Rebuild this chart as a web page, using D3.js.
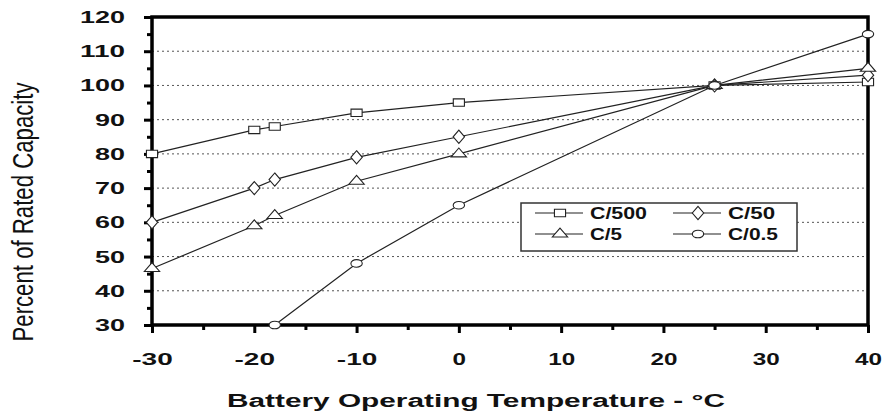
<!DOCTYPE html>
<html>
<head>
<meta charset="utf-8">
<script src="https://cdn.jsdelivr.net/npm/d3@7"></script>
<style>
  body { margin: 0; background: #fff; }
  svg { display: block; font-family: "Liberation Sans", Arial, sans-serif; }
</style>
</head>
<body>
<div id="chart"></div>
<script>
// data
var seriesNames = ["C/500", "C/50", "C/5", "C/0.5"];
var c500 = [[-30, 80], [-20, 87], [-18, 88], [-10, 92], [0, 95], [25, 100], [40, 101]];
var c50 = [[-30, 60], [-20, 70], [-18, 72.5], [-10, 79], [0, 85], [25, 100], [40, 103]];
var c5 = [[-30, 46.5], [-20, 59], [-18, 62], [-10, 72], [0, 80], [25, 100], [40, 105]];
var c05 = [[-18, 30], [-10, 48], [0, 65], [25, 100], [40, 115]];
var xTicks = [-30, -20, -10, 0, 10, 20, 30, 40];
var yTicks = [30, 40, 50, 60, 70, 80, 90, 100, 110, 120];

var width = 885, height = 416;
var margin = {top: 17, right: 17, bottom: 91, left: 152};
// the source picture is stretched sideways, so glyphs and marks get widened
var stretch = 1.5;

var svg = d3.select("#chart").append("svg")
    .attr("width", width)
    .attr("height", height);

var x = d3.scaleLinear().domain([-30, 40]).range([margin.left, width - margin.right]);
var y = d3.scaleLinear().domain([30, 120]).range([height - margin.bottom, margin.top]);

// dotted grid
svg.append("g")
    .selectAll("line")
    .data(yTicks.filter(function(d) { return d > 30 && d < 120; }))
    .enter().append("line")
    .attr("x1", x(-30)).attr("x2", x(40))
    .attr("y1", function(d) { return y(d); })
    .attr("y2", function(d) { return y(d); })
    .attr("stroke", "#555")
    .attr("stroke-width", 1)
    .attr("stroke-dasharray", "2,3");

function widen(sel, perChar) {
    sel.each(function() {
        var t = d3.select(this), s = t.text();
        if (s) t.attr("textLength", s.length * perChar).attr("lengthAdjust", "spacingAndGlyphs");
    });
}

// y axis with minor ticks
var yAxis = d3.axisLeft(y).tickValues(d3.range(30, 121, 5))
    .tickSize(7).tickPadding(20)
    .tickFormat(function(d) { return d % 10 === 0 ? d : ""; });
var gy = svg.append("g")
    .attr("transform", "translate(" + x(-30) + ",0)")
    .call(yAxis);
gy.select(".domain").remove();
gy.selectAll(".tick line").attr("stroke", "#000").attr("stroke-width", 3)
    .attr("x2", function(d) { return d % 10 === 0 ? -8 : -5; });
gy.selectAll(".tick text").style("font-size", "17px").style("font-weight", "bold").attr("fill", "#111")
    .call(widen, 15);

// x axis
var xAxis = d3.axisBottom(x).tickValues(d3.range(-30, 41, 5))
    .tickSize(7).tickPadding(21)
    .tickFormat(function(d) { return d % 10 === 0 ? d : ""; });
var gx = svg.append("g")
    .attr("transform", "translate(0," + y(30) + ")")
    .call(xAxis);
gx.select(".domain").remove();
gx.selectAll(".tick line").attr("stroke", "#000").attr("stroke-width", 3)
    .attr("y2", function(d) { return d % 10 === 0 ? 8 : 5; });
gx.selectAll(".tick text").style("font-size", "17px").style("font-weight", "bold").attr("fill", "#111")
    .call(widen, 13.5);

// frame
svg.append("rect")
    .attr("x", x(-30)).attr("y", y(120))
    .attr("width", x(40) - x(-30)).attr("height", y(30) - y(120))
    .attr("fill", "none").attr("stroke", "#000").attr("stroke-width", 3.5);

var line = d3.line()
    .x(function(d) { return x(d[0]); })
    .y(function(d) { return y(d[1]); });

var symbols = [d3.symbolSquare, d3.symbolDiamond, d3.symbolTriangle, d3.symbolCircle];
var sizes = [55, 50, 45, 45];
var allSeries = [c500, c50, c5, c05];

allSeries.forEach(function(s) {
    svg.append("path")
        .datum(s)
        .attr("d", line)
        .attr("fill", "none")
        .attr("stroke", "#222")
        .attr("stroke-width", 1.2);
});

allSeries.forEach(function(s, i) {
    svg.append("g")
        .selectAll("path")
        .data(s)
        .enter().append("path")
        .attr("d", d3.symbol().type(symbols[i]).size(sizes[i]))
        .attr("transform", function(d) {
            return "translate(" + x(d[0]) + "," + y(d[1]) + ") scale(" + stretch + ",1)";
        })
        .attr("fill", "#fff")
        .attr("stroke", "#222")
        .attr("stroke-width", 1.1)
        .attr("vector-effect", "non-scaling-stroke");
});

// legend
var legend = svg.append("g").attr("transform", "translate(521,203)");
legend.append("rect")
    .attr("width", 276).attr("height", 48)
    .attr("fill", "#fff").attr("stroke", "#333").attr("stroke-width", 1.5);

var legendText = [57, 47, 32, 50];
seriesNames.forEach(function(name, i) {
    var col = i % 2, row = Math.floor(i / 2);
    var g = legend.append("g")
        .attr("transform", "translate(" + (14 + col * 138) + "," + (10 + row * 21) + ")");
    g.append("line").attr("x1", 0).attr("x2", 48).attr("y1", 0).attr("y2", 0)
        .attr("stroke", "#222").attr("stroke-width", 1.2);
    g.append("path")
        .attr("d", d3.symbol().type(symbols[i]).size(sizes[i]))
        .attr("transform", "translate(25,0) scale(" + stretch + ",1)")
        .attr("fill", "#fff").attr("stroke", "#222").attr("stroke-width", 1.1)
        .attr("vector-effect", "non-scaling-stroke");
    g.append("text")
        .attr("x", 55).attr("y", 6)
        .style("font-size", "16px").style("font-weight", "bold")
        .attr("fill", "#111")
        .attr("textLength", legendText[i]).attr("lengthAdjust", "spacingAndGlyphs")
        .text(name);
});

// axis titles
svg.append("text")
    .attr("x", 227)
    .attr("y", 407)
    .style("font-size", "18px").style("font-weight", "bold")
    .attr("fill", "#111")
    .attr("textLength", 498).attr("lengthAdjust", "spacingAndGlyphs")
    .text("Battery Operating Temperature -  °C");

svg.append("text")
    .attr("transform", "translate(33,212) rotate(-90)")
    .attr("text-anchor", "middle")
    .style("font-size", "29px")
    .attr("fill", "#111")
    .attr("textLength", 259).attr("lengthAdjust", "spacingAndGlyphs")
    .text("Percent of Rated Capacity");
</script>
</body>
</html>
